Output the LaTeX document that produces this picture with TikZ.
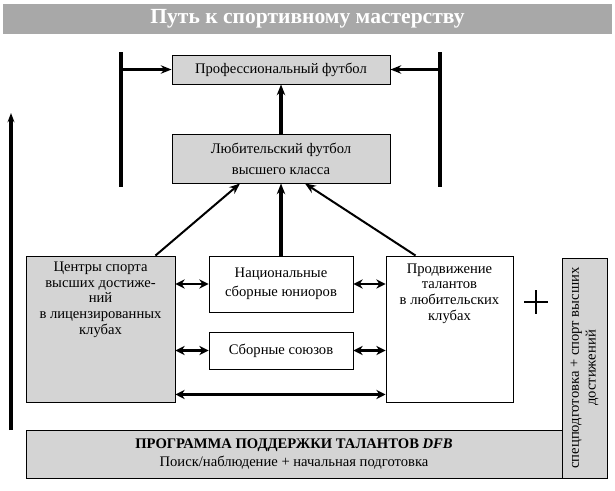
\documentclass[tikz,border=0pt]{standalone}
\usepackage{fontspec}
\setmainfont{Liberation Serif}
\definecolor{boxgray}{RGB}{212,212,212}
\definecolor{bannergray}{RGB}{168,168,168}
\usetikzlibrary{arrows.meta,positioning,calc}

\begin{document}
\begin{tikzpicture}[x=0.65pt, y=-0.65pt,
  gbox/.style={rectangle, draw=black, line width=0.6pt, fill=boxgray,
               inner sep=2pt, align=center, font=\fontsize{9.5}{11}\selectfont},
  wbox/.style={gbox, fill=white},
  txt/.style={align=center, inner sep=0pt, font=\fontsize{9.5}{10.2}\selectfont},
  bar/.style={line width=2pt},
  arr/.style={-{Stealth[length=7pt,width=5.5pt]}, line width=2pt},
  diag/.style={-{Stealth[length=7pt,width=5.5pt]}, line width=1.3pt},
  darr/.style={{Stealth[length=6pt,width=6pt]}-{Stealth[length=6pt,width=6pt]}, line width=1.9pt}
]
\useasboundingbox (0,0) rectangle (615,490);

% Title banner
\node[fill=bannergray, minimum width=395.85pt, minimum height=19.5pt, inner sep=0pt,
      text=white, font=\fontsize{14}{14}\selectfont\bfseries] (title) at (307.5,19)
  {Путь к спортивному мастерству};

% Top level
\node[gbox, minimum width=141.7pt, minimum height=18.85pt] (prof) at (281,69.5)
  {Профессиональный футбол};
\node[gbox, minimum width=141.7pt, minimum height=31.85pt,
      font=\fontsize{9.5}{13.5}\selectfont] (amat) at (281,158.5)
  {Любительский футбол\\высшего класса};

% Middle row
\node[gbox, minimum width=96.85pt, minimum height=94.9pt] (lcs) at (100.5,329) {};
\node[txt, below=4pt of lcs.north] (lcstext)
  {Центры спорта\\высших достиже-\\ний\\в лицензированных\\клубах};
\node[wbox, minimum width=93.6pt, minimum height=36.4pt,
      font=\fontsize{9.5}{12.5}\selectfont] (nat) at (281,284)
  {Национальные\\сборные юниоров};
\node[wbox, minimum width=93.6pt, minimum height=24pt] (sbor) at (281,350.5)
  {Сборные союзов};
\node[wbox, minimum width=82.55pt, minimum height=94.9pt] (talent) at (449.5,329) {};
\node[txt, below=5pt of talent.north] (talenttext)
  {Продвижение\\талантов\\в любительских\\клубах};

% Programme boxes
\node[gbox, minimum width=348.4pt, minimum height=31.2pt,
      font=\fontsize{9.5}{11.5}\selectfont] (dfb) at (294,454)
  {\textbf{ПРОГРАММА ПОДДЕРЖКИ ТАЛАНТОВ \textit{DFB}}\\Поиск/наблюдение + начальная подготовка};
\node[gbox, rotate=90, minimum width=143pt, minimum height=29.25pt,
      font=\fontsize{9.5}{11}\selectfont] (spec) at (584.5,368)
  {спецподготовка + спорт высших\\достижений};

% Plus sign
\coordinate (plus) at (536,302);
\draw[line width=1pt] ($(plus)+(-12,0)$) -- ($(plus)+(12,0)$)
                      ($(plus)+(0,-12)$) -- ($(plus)+(0,12)$);

% Side brackets
\coordinate (ltop) at (121,52);
\coordinate (lbot) at (121,187);
\coordinate (rtop) at (440,52);
\coordinate (rbot) at (440,187);
\draw[bar] (ltop) -- (lbot);
\draw[bar] (rtop) -- (rbot);
\draw[arr] (ltop |- prof.west) -- (prof.west);
\draw[arr] (rtop |- prof.east) -- (prof.east);

% Long arrow on the left
\coordinate (gbot) at (11,430);
\coordinate (gtop) at (11,113);
\draw[arr, -{Stealth[length=6pt,width=4.5pt]}] (gbot) -- (gtop);

% Arrows upward
\draw[arr] (amat.north) -- (prof.south);
\draw[arr] (nat.north) -- (amat.south);
\draw[diag] ($(lcs.north east)+(-20,0)$) -- ($(amat.south)+(-41,0)$);
\draw[diag] ($(talent.north west)+(30,0)$) -- ($(amat.south)+(24,0)$);

% Two-way arrows
\draw[darr] (lcs.east |- nat.west) -- (nat.west);
\draw[darr] (nat.east) -- (talent.west |- nat.east);
\draw[darr] (lcs.east |- sbor.west) -- (sbor.west);
\draw[darr] (sbor.east) -- (talent.west |- sbor.east);
\draw[darr] ($(lcs.south east)+(0,-8)$) -- ($(talent.south west)+(0,-8)$);
\end{tikzpicture}
\end{document}
